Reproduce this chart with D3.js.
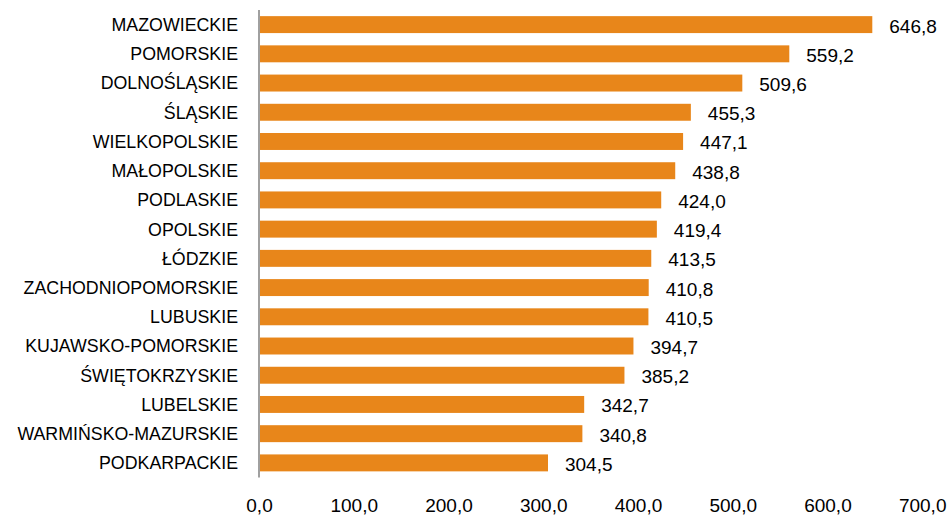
<!DOCTYPE html>
<html><head><meta charset="utf-8">
<script src="https://cdn.jsdelivr.net/npm/d3@7"></script>
<style>body{margin:0;background:#fff}svg{display:block}text{font-family:"Liberation Sans",Arial,sans-serif;fill:#000}</style>
</head><body><svg id="c" width="949" height="515"></svg>
<script>
const categories = ["MAZOWIECKIE","POMORSKIE","DOLNOŚLĄSKIE","ŚLĄSKIE","WIELKOPOLSKIE","MAŁOPOLSKIE","PODLASKIE","OPOLSKIE","ŁÓDZKIE","ZACHODNIOPOMORSKIE","LUBUSKIE","KUJAWSKO-POMORSKIE","ŚWIĘTOKRZYSKIE","LUBELSKIE","WARMIŃSKO-MAZURSKIE","PODKARPACKIE"];
const values = [646.8,559.2,509.6,455.3,447.1,438.8,424.0,419.4,413.5,410.8,410.5,394.7,385.2,342.7,340.8,304.5];
const ticks = [0,100,200,300,400,500,600,700];
const fmt = v => v.toFixed(1).replace(".", ",");

const svg = d3.select("#c");
const x = d3.scaleLinear().domain([0,700]).range([259.5, 922.7]);
const y = d3.scaleBand().domain(categories).range([10, 477.5]).paddingInner(0.42).paddingOuter(0.21);

svg.selectAll("rect.bar").data(values).join("rect")
  .attr("x", x(0)).attr("y", (d,i)=>y(categories[i]))
  .attr("width", d=>x(d)-x(0)).attr("height", y.bandwidth())
  .attr("fill", "#E8861A");

svg.append("line").attr("x1", 259).attr("x2", 259).attr("y1", 10).attr("y2", 477.5)
  .attr("stroke", "#a0a0a0").attr("stroke-width", 2);

svg.selectAll("text.cat").data(categories).join("text")
  .attr("class","cat")
  .attr("x", 238).attr("y", d=>y(d)+y.bandwidth()/2)
  .attr("dy","0.36em").attr("text-anchor","end").attr("font-size", "17.8px").text(d=>d);

svg.selectAll("text.val").data(values).join("text")
  .attr("class","val")
  .attr("x", d=>x(d)+17).attr("y", (d,i)=>y(categories[i])+y.bandwidth()/2)
  .attr("dy","0.42em").attr("font-size", "19px").text(d=>fmt(d));

svg.selectAll("text.tick").data(ticks).join("text")
  .attr("class","tick")
  .attr("x", d=>x(d)).attr("y", 512)
  .attr("text-anchor","middle").attr("font-size", "19px").text(d=>fmt(d));
</script></body></html>
